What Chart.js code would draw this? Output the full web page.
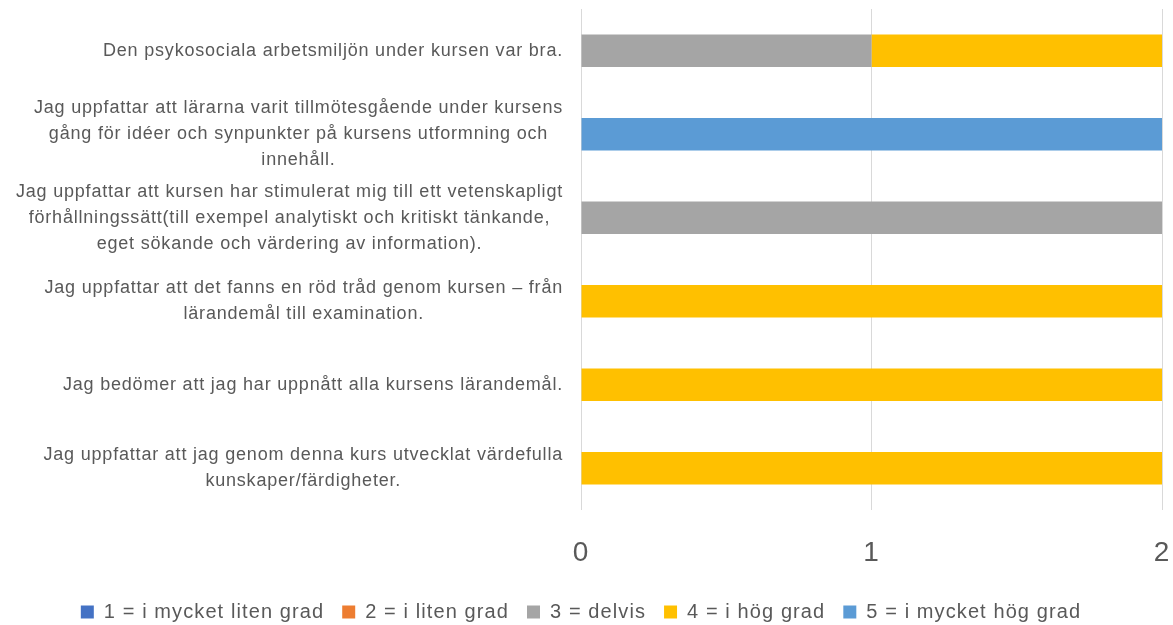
<!DOCTYPE html>
<html>
<head>
<meta charset="utf-8">
<script src="https://cdn.jsdelivr.net/npm/chart.js@4"></script>
<style>
  html, body { margin: 0; padding: 0; background: #fff; }
  #wrap { width: 1173px; height: 625px; }
</style>
</head>
<body>
<div id="wrap"><canvas id="surveyChart"></canvas></div>
<script>
const categories = [
  ['Den psykosociala arbetsmiljön under kursen var bra.'],
  ['Jag uppfattar att lärarna varit tillmötesgående under kursens', 'gång för idéer och synpunkter på kursens utformning och', 'innehåll.'],
  ['Jag uppfattar att kursen har stimulerat mig till ett vetenskapligt', 'förhållningssätt(till exempel analytiskt och kritiskt tänkande,', 'eget sökande och värdering av information).'],
  ['Jag uppfattar att det fanns en röd tråd genom kursen – från', 'lärandemål till examination.'],
  ['Jag bedömer att jag har uppnått alla kursens lärandemål.'],
  ['Jag uppfattar att jag genom denna kurs utvecklat värdefulla', 'kunskaper/färdigheter.']
];
const seriesNames = ['1 = i mycket liten grad', '2 = i liten grad', '3 = delvis', '4 = i hög grad', '5 = i mycket hög grad'];
const seriesColors = ['#4472C4', '#ED7D31', '#A5A5A5', '#FFC000', '#5B9BD5'];
const grade1 = [0, 0, 0, 0, 0, 0];
const grade2 = [0, 0, 0, 0, 0, 0];
const grade3 = [1, 0, 2, 0, 0, 0];
const grade4 = [1, 0, 0, 2, 2, 2];
const grade5 = [0, 2, 0, 0, 0, 0];
const xTicks = [0, 1, 2];

const textColor = '#595959';
const labelFont = '18px "Liberation Sans"';

// wider letter spacing, a bit like the Calibri text in the original
const spacing = {
  id: 'spacing',
  beforeUpdate(chart) {
    chart.ctx.letterSpacing = '1.1px';
  }
};

// draws the wrapped category labels: block right-aligned, lines centred in block
const wrappedLabels = {
  id: 'wrappedLabels',
  afterDraw(chart) {
    const ctx = chart.ctx;
    const yScale = chart.scales.y;
    const right = chart.chartArea.left - 18;
    const lineH = 26;
    ctx.save();
    ctx.font = labelFont;
    ctx.letterSpacing = '0.8px';
    ctx.fillStyle = textColor;
    ctx.textAlign = 'center';
    ctx.textBaseline = 'middle';
    categories.forEach((lines, i) => {
      const w = Math.max(...lines.map(l => ctx.measureText(l).width));
      const cx = right - w / 2;
      const yc = yScale.getPixelForTick(i);
      lines.forEach((l, j) => {
        ctx.fillText(l, cx, yc + (j - (lines.length - 1) / 2) * lineH);
      });
    });
    ctx.restore();
  }
};

const allGrades = [grade1, grade2, grade3, grade4, grade5];

const surveyData = {
  labels: categories,
  datasets: seriesNames.map((name, k) => ({
    label: name,
    data: allGrades[k],
    backgroundColor: seriesColors[k],
    borderWidth: 0,
    barPercentage: 0.39,
    categoryPercentage: 1
  }))
};

const surveyConfig = {
  type: 'bar',
  data: surveyData,
  plugins: [spacing, wrappedLabels],
  options: {
    indexAxis: 'y',
    responsive: true,
    maintainAspectRatio: false,
    animation: false,
    layout: {
      padding: { left: 0, right: 11, top: 9, bottom: -7 }
    },
    scales: {
      x: {
        stacked: true,
        min: 0,
        max: 2,
        afterBuildTicks: (scale) => {
          scale.ticks = xTicks.map(v => ({ value: v }));
        },
        afterFit: (scale) => {
          scale.height = 74;
          scale.paddingLeft = 0;
          scale.paddingRight = 0;
        },
        grid: {
          color: '#D9D9D9',
          drawTicks: false
        },
        border: { display: false },
        ticks: {
          color: textColor,
          padding: 26,
          font: { family: 'Liberation Sans', size: 28 }
        }
      },
      y: {
        stacked: true,
        grid: { display: false },
        border: { display: false },
        ticks: { display: false },
        afterFit: (scale) => {
          scale.width = 581;
        }
      }
    },
    plugins: {
      tooltip: { enabled: false },
      legend: {
        position: 'bottom',
        labels: {
          color: textColor,
          boxWidth: 13,
          boxHeight: 13,
          padding: 18,
          font: { family: 'Liberation Sans', size: 20 }
        }
      }
    }
  }
};

const surveyChart = new Chart(document.getElementById('surveyChart'), surveyConfig);
</script>
</body>
</html>
